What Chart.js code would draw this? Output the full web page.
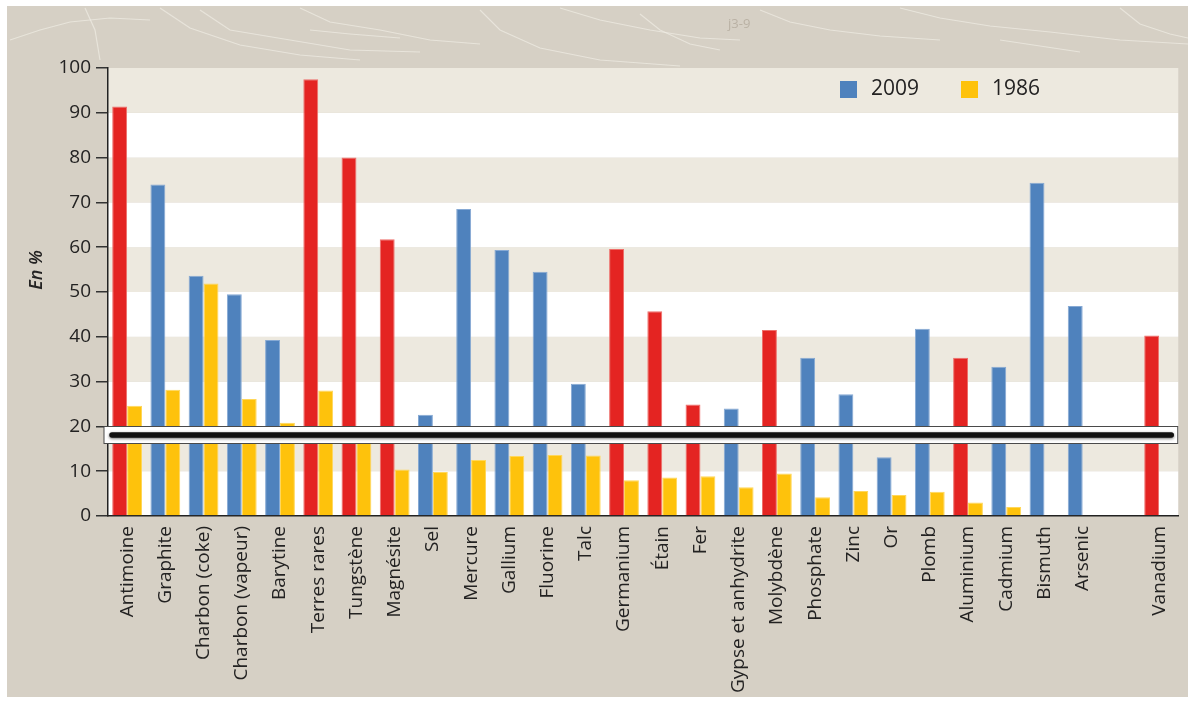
<!DOCTYPE html>
<html lang="fr">
<head>
<meta charset="utf-8">
<script src="https://cdn.jsdelivr.net/npm/chart.js@4"></script>
<style>
  html, body { margin: 0; padding: 0; background: #ffffff; }
  #wrap { width: 1192px; height: 701px; position: relative; }
</style>
</head>
<body>
<div id="wrap"><canvas id="c" width="1192" height="701"></canvas></div>
<script>
// ---- Data ----
const categories = ['Antimoine','Graphite','Charbon (coke)','Charbon (vapeur)','Barytine','Terres rares','Tungstène','Magnésite','Sel','Mercure','Gallium','Fluorine','Talc','Germanium','Étain','Fer','Gypse et anhydrite','Molybdène','Phosphate','Zinc','Or','Plomb','Aluminium','Cadmium','Bismuth','Arsenic','','Vanadium'];
const values2009 = [91.4,74.0,53.6,49.5,39.3,97.5,80.0,61.8,22.6,68.5,59.4,54.5,29.5,59.6,45.7,24.9,24.0,41.5,35.3,27.2,13.1,41.8,35.3,33.3,74.4,46.9,null,40.3];
const values1986 = [24.6,28.2,51.9,26.1,20.8,28.0,18.0,10.4,9.8,12.5,13.4,13.6,13.5,8.0,8.6,8.9,6.4,9.5,4.2,5.6,4.7,5.4,3.0,2.0,null,null,null,null];
const highlighted = [1,0,0,0,0,1,1,1,0,0,0,0,0,1,1,1,0,1,0,0,0,0,1,0,0,0,0,1];
const seriesLabels = ['2009','1986'];
const yTicks = [0,10,20,30,40,50,60,70,80,90,100];

// ---- Styles ----
const RED = '#E42422', BLUE = '#4F82BD', YELLOW = '#FEC20C';
const RED_EDGE = '#EE6F6B', BLUE_EDGE = '#86A9D4', YELLOW_EDGE = '#FFD75A';
const BAND = '#EDE9DF', OUTER = '#D6D0C5', TEXT = '#232222';
const FONT = '"Open Sans", "Noto Sans", sans-serif';

const colors2009 = highlighted.map(h => h ? RED : BLUE);
const edges2009 = highlighted.map(h => h ? RED_EDGE : BLUE_EDGE);

const backgroundPlugin = {
  id: 'bg',
  beforeDraw(chart) {
    const {ctx, chartArea, scales} = chart;
    ctx.save();
    ctx.fillStyle = '#ffffff';
    ctx.fillRect(0, 0, chart.width, chart.height);
    ctx.fillStyle = OUTER;
    ctx.fillRect(7, 6, 1181, 691);
    // faint map texture in the top strip
    ctx.strokeStyle = 'rgba(240,236,228,0.7)';
    ctx.lineWidth = 1.2;
    const paths = [
      [[10,40],[40,30],[70,22],[110,18],[150,20]],
      [[85,8],[95,30],[100,60]],
      [[160,8],[190,28],[240,45],[300,55],[360,60]],
      [[200,10],[230,30],[290,40],[350,50],[420,52]],
      [[300,8],[330,22],[380,30],[430,40],[480,44]],
      [[310,30],[350,34],[400,38]],
      [[480,10],[500,30],[540,48],[600,60],[680,66]],
      [[560,8],[600,20],[650,30],[700,38],[740,40]],
      [[640,14],[660,30],[690,44],[720,50]],
      [[760,10],[790,22],[830,30],[880,36],[940,40]],
      [[900,8],[940,18],[990,26],[1050,32],[1120,40],[1188,44]],
      [[1000,40],[1040,46],[1080,52]],
      [[1120,8],[1140,24],[1170,34],[1188,38]]
    ];
    paths.forEach(p => {
      ctx.beginPath();
      ctx.moveTo(p[0][0], p[0][1]);
      for (let i = 1; i < p.length; i++) ctx.lineTo(p[i][0], p[i][1]);
      ctx.stroke();
    });
    ctx.fillStyle = 'rgba(150,140,125,0.45)';
    ctx.font = '13px ' + FONT;
    ctx.fillText('j3-9', 728, 28);
    // plot bands
    const y = scales.y;
    for (let v = 0; v < 100; v += 10) {
      const top = y.getPixelForValue(v + 10), bot = y.getPixelForValue(v);
      ctx.fillStyle = ((v / 10) % 2 === 0) ? '#ffffff' : BAND;
      ctx.fillRect(chartArea.left, top, chartArea.right - chartArea.left, bot - top);
    }
    ctx.restore();
  }
};

const overlayPlugin = {
  id: 'overlay',
  afterDatasetsDraw(chart) {
    const {ctx, chartArea, scales} = chart;
    const y = scales.y;
    const yTop = Math.round(y.getPixelForValue(20.1)) + 0.5;
    const yBot = Math.round(y.getPixelForValue(16.3)) + 0.5;
    ctx.save();
    ctx.fillStyle = '#ffffff';
    ctx.fillRect(chartArea.left - 4, yTop, chartArea.right - chartArea.left + 4, yBot - yTop);
    ctx.strokeStyle = '#4a4a4a';
    ctx.lineWidth = 1;
    ctx.strokeRect(chartArea.left - 4, yTop, chartArea.right - chartArea.left + 4 - 0.5, yBot - yTop);
    const mid = (yTop + yBot) / 2;
    ctx.shadowColor = 'rgba(0,0,0,0.55)';
    ctx.shadowBlur = 3;
    ctx.shadowOffsetY = 1;
    ctx.strokeStyle = '#111111';
    ctx.lineWidth = 5.5;
    ctx.lineCap = 'round';
    ctx.beginPath();
    ctx.moveTo(chartArea.left + 4, mid);
    ctx.lineTo(chartArea.right - 7, mid);
    ctx.stroke();
    ctx.restore();
  },
  afterDraw(chart) {
    const {ctx} = chart;
    ctx.save();
    // y title
    ctx.translate(37, 270);
    ctx.rotate(-Math.PI / 2);
    ctx.fillStyle = TEXT;
    ctx.font = 'italic 600 18px ' + FONT;
    ctx.textAlign = 'center';
    ctx.textBaseline = 'middle';
    ctx.fillText('En %', 0, 0);
    ctx.restore();
    // legend
    ctx.save();
    const items = [{x: 840, c: BLUE, t: seriesLabels[0]}, {x: 961, c: YELLOW, t: seriesLabels[1]}];
    items.forEach(it => {
      ctx.fillStyle = it.c;
      ctx.fillRect(it.x, 81, 17, 17);
      ctx.fillStyle = TEXT;
      ctx.font = '21px ' + FONT;
      ctx.textBaseline = 'middle';
      ctx.textAlign = 'left';
      ctx.fillText(it.t, it.x + 31, 89);
    });
    ctx.restore();
  }
};

new Chart(document.getElementById('c'), {
  type: 'bar',
  data: {
    labels: categories,
    datasets: [
      { label: seriesLabels[0], data: values2009, backgroundColor: colors2009, borderColor: edges2009, borderWidth: 1, borderSkipped: 'bottom' },
      { label: seriesLabels[1], data: values1986, backgroundColor: YELLOW, borderColor: YELLOW_EDGE, borderWidth: 1, borderSkipped: 'bottom' }
    ]
  },
  options: {
    responsive: false,
    animation: false,
    devicePixelRatio: 1,
    layout: { padding: { top: 68, right: 4, left: 0, bottom: 0 } },
    plugins: { legend: { display: false }, tooltip: { enabled: false } },
    datasets: { bar: { categoryPercentage: 0.78, barPercentage: 1.0 } },
    scales: {
      x: {
        grid: { display: false, drawTicks: false },
        border: { display: true, color: '#222', width: 1.5 },
        ticks: { minRotation: 90, maxRotation: 90, autoSkip: false, padding: 10, color: TEXT, font: { family: FONT, size: 19 } },
        afterFit(scale) { scale.height = 185; }
      },
      y: {
        min: 0, max: 100,
        afterBuildTicks(scale) { scale.ticks = yTicks.map(v => ({ value: v })); },
        grid: { drawOnChartArea: false, drawTicks: true, tickLength: 12, color: '#333', lineWidth: 1.5 },
        border: { display: true, color: '#222', width: 1.5 },
        ticks: { padding: 5, color: TEXT, font: { family: FONT, size: 19 } },
        afterFit(scale) { scale.width = 108; }
      }
    }
  },
  plugins: [backgroundPlugin, overlayPlugin]
});
</script>
</body>
</html>
